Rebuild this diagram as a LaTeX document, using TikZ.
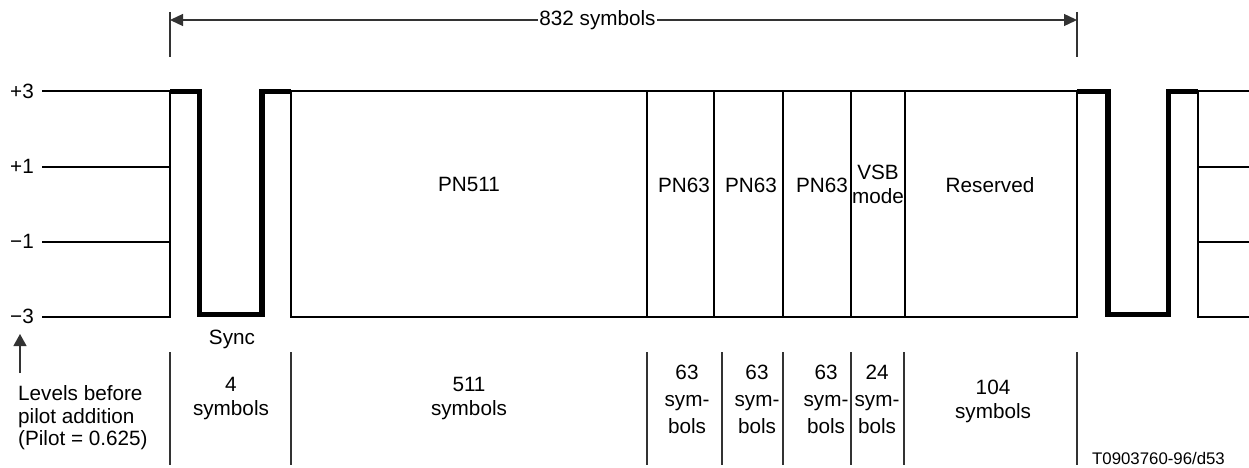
\documentclass[tikz,border=0pt]{standalone}
\usepackage{fontspec}
\setmainfont{Liberation Sans}
\usetikzlibrary{arrows.meta}
\begin{document}
\begin{tikzpicture}[x=1pt,y=-1pt,
  >={Triangle[length=13pt,width=12pt]},
  frame/.style={line width=2pt, line join=miter},
  wave/.style={line width=5.2pt, line join=miter},
  guide/.style={line width=1.3pt, black!80},
  lbl/.style={font=\fontsize{20.7}{24}\selectfont, inner sep=0pt, align=center},
  tall/.style={font=\fontsize{20.7}{27}\selectfont},
  note/.style={font=\fontsize{20.7}{22.5}\selectfont},
  small/.style={font=\fontsize{16.8}{20}\selectfont, inner sep=0pt}]
\useasboundingbox (0,0) rectangle (1249,468);
% level lines (left)
\draw[frame] (42,91.5) -- (170,91.5) -- (170,316.5) -- (42,316.5);
\draw[frame] (42,166.5) -- (170,166.5);
\draw[frame] (42,241.5) -- (170,241.5);
% main frame and dividers
\draw[frame] (291,91.5) rectangle (1077,316.5);
\foreach \x in {647,714,783,851,905} \draw[frame] (\x,91.5) -- (\x,316.5);
% level lines (right)
\draw[frame] (1249,91.5) -- (1198,91.5) -- (1198,316.5) -- (1249,316.5);
\draw[frame] (1198,166.5) -- (1249,166.5);
\draw[frame] (1198,241.5) -- (1249,241.5);
% sync waveforms
\draw[wave] (170,91.5) -- (199.5,91.5) -- (199.5,314.5) -- (262,314.5) -- (262,91.5) -- (291,91.5);
\draw[wave] (1077,91.5) -- (1108,91.5) -- (1108,314.5) -- (1168.5,314.5) -- (1168.5,91.5) -- (1198,91.5);
% level labels
\node[lbl, anchor=east] (l3) at (34,91.5) {+3};
\node[lbl, anchor=east] (l1) at (34,166.5) {+1};
\node[lbl, anchor=east] (lm1) at (34,241.5) {−1};
\node[lbl, anchor=east] (lm3) at (34,316.5) {−3};
% top dimension
\draw[guide] (170,12) -- (170,57);
\draw[guide] (1077,12) -- (1077,57);
\coordinate (dl) at (170,20);
\coordinate (dr) at (1077,20);
\draw[guide, <->] (dl) -- (dr);
\node[lbl, fill=white, inner xsep=1.5pt, inner ysep=2pt] (len) at (597.5,20) {832 symbols};
% segment labels
\node[lbl] (pn511) at (469,184) {PN511};
\node[lbl] (pa) at (684,185) {PN63};
\node[lbl] (pb) at (751,185) {PN63};
\node[lbl] (pc) at (822,185) {PN63};
\node[lbl] (vsb) at (878,184) {VSB\\mode};
\node[lbl] (res) at (990,185) {Reserved};
\node[lbl] (sync) at (232,339) {Sync};
% bottom dividers
\foreach \x in {170,291,647,722,783,851,904,1077} \draw[guide] (\x,352) -- (\x,465);
% bottom labels
\node[lbl] (c4) at (231,398.5) {4\\symbols};
\node[lbl] (c511) at (469,398.5) {511\\symbols};
\node[lbl, tall] (c63a) at (687,399) {63\\sym-\\bols};
\node[lbl, tall] (c63b) at (757,399) {63\\sym-\\bols};
\node[lbl, tall] (c63c) at (826,399) {63\\sym-\\bols};
\node[lbl, tall] (c24) at (877,399) {24\\sym-\\bols};
\node[lbl] (c104) at (993,401) {104\\symbols};
% levels note
\coordinate (nb) at (20,373);
\coordinate (nt) at (20,334);
\draw[guide, -{Triangle[length=12pt,width=13pt]}] (nb) -- (nt);
\node[lbl, note, align=left, anchor=west] (note) at (18,418) {Levels before\\pilot addition\\(Pilot = 0.625)};
\node[small] (ref) at (1158.5,458) {T0903760-96/d53};
\end{tikzpicture}
\end{document}
